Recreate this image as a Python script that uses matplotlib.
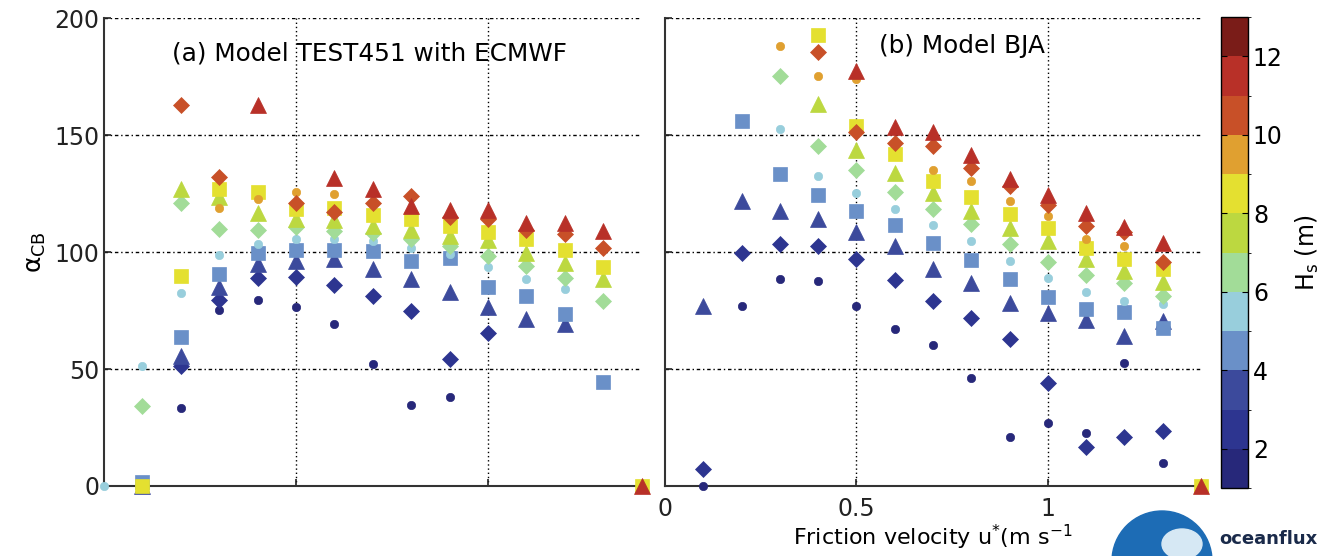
import numpy as np
import matplotlib
matplotlib.use("Agg")
import matplotlib.pyplot as plt
from matplotlib.colors import ListedColormap, BoundaryNorm
from matplotlib.patches import Circle, Ellipse

nan = np.nan
u_star = [0.0, 0.1, 0.2, 0.3, 0.4, 0.5, 0.6, 0.7, 0.8, 0.9, 1.0, 1.1, 1.2, 1.3, 1.4]
hs_bins = [1.5, 2.5, 3.5, 4.5, 5.5, 6.5, 7.5, 8.5, 9.5, 10.5, 11.5, 12.5]
hs_colors = ["#27287a", "#2d3590", "#3c4a9c", "#6a90c8", "#98cedc", "#a2dc98",
             "#bcd840", "#e4e030", "#e0a030", "#c85028", "#b83028", "#7a1c18"]
hs_markers = ["o", "D", "^", "s"] * 3

# Panel (a): Model TEST451 with ECMWF, one list per Hs bin
a_hs1 = [nan, nan, 33.4, 75.4, 79.4, 76.6, 69.3, 52.1, 34.7, 38.0, nan, nan, nan, nan, nan]
a_hs2 = [nan, nan, 51.1, 79.7, 88.8, 89.4, 86.1, 81.1, 74.7, 54.3, 65.4, nan, nan, nan, nan]
a_hs3 = [nan, 0.0, 55.4, 85.1, 94.9, 96.1, 96.8, 92.6, 88.3, 82.8, 76.6, 71.4, 69.4, nan, nan]
a_hs4 = [nan, 1.5, 63.6, 90.8, 99.7, 100.8, 100.8, 100.3, 96.1, 97.6, 85.1, 81.1, 73.3, 44.3, nan]
a_hs5 = [0.0, 51.4, 82.3, 98.6, 103.4, 105.7, 105.5, 104.5, 101.9, 99.2, 93.7, 88.3, 84.0, nan, nan]
a_hs6 = [nan, 34.0, 120.8, 109.7, 109.4, 110.8, 109.0, 108.2, 105.7, 102.7, 98.3, 94.0, 89.0, 79.0, nan]
a_hs7 = [nan, nan, 126.8, 123.5, 116.6, 114.0, 113.8, 111.1, 109.4, 106.9, 105.1, 99.7, 95.1, 88.3, nan]
a_hs8 = [nan, 0.0, 89.7, 126.8, 125.7, 118.3, 119.0, 115.7, 113.9, 111.1, 108.5, 105.4, 100.8, 93.7, 0.0]
a_hs9 = [nan, nan, nan, 118.6, 122.8, 125.7, 124.7, nan, nan, nan, nan, nan, nan, nan, nan]
a_hs10 = [nan, nan, 162.8, 132.1, nan, 121.1, 117.1, 121.1, 124.0, 115.0, 113.9, 109.4, 107.6, 101.8, nan]
a_hs11 = [nan, nan, nan, nan, 162.8, nan, 131.8, 126.8, 119.7, 118.0, 118.0, 112.6, 112.3, 109.0, 0.0]
a_hs12 = [nan] * 15

# Panel (b): Model BJA
b_hs1 = [nan, 0.0, 77.1, 88.3, 87.4, 77.1, 67.0, 60.4, 46.1, 21.1, 27.1, 22.8, 52.6, 10.0, nan]
b_hs2 = [nan, 7.4, 99.7, 103.3, 102.6, 96.8, 88.0, 79.0, 71.9, 62.9, 44.0, 16.8, 20.9, 23.7, nan]
b_hs3 = [nan, 77.1, 121.8, 117.5, 114.0, 108.5, 102.6, 92.8, 86.9, 78.0, 74.0, 71.1, 64.0, 70.4, nan]
b_hs4 = [nan, nan, 156.1, 133.3, 124.3, 117.5, 111.4, 104.0, 96.5, 88.6, 80.9, 75.7, 74.3, 67.6, nan]
b_hs5 = [nan, nan, nan, 152.5, 132.5, 125.4, 118.3, 111.4, 104.7, 96.1, 89.0, 82.8, 79.0, 77.6, nan]
b_hs6 = [nan, nan, nan, 175.1, 145.4, 135.1, 125.7, 118.3, 111.8, 103.3, 95.7, 90.0, 86.6, 81.4, nan]
b_hs7 = [nan, nan, nan, nan, 163.3, 143.7, 133.7, 125.1, 117.5, 110.4, 104.7, 97.2, 91.8, 87.1, nan]
b_hs8 = [nan, nan, nan, nan, 192.8, 153.7, 141.8, 130.4, 123.5, 116.1, 110.4, 101.8, 97.2, 92.6, 0.0]
b_hs9 = [nan, nan, nan, 188.0, 175.1, 174.0, nan, 135.1, 130.4, 121.8, 115.4, 105.7, 102.5, nan, nan]
b_hs10 = [nan, nan, nan, nan, 185.4, 151.1, 146.5, 145.4, 136.1, 128.0, 120.0, 111.1, 108.6, 95.7, nan]
b_hs11 = [nan, nan, nan, nan, nan, 177.5, 153.3, 151.1, 141.4, 131.4, 124.3, 116.8, 110.8, 103.7, 0.0]
b_hs12 = [nan] * 15

panel_a = [a_hs1, a_hs2, a_hs3, a_hs4, a_hs5, a_hs6, a_hs7, a_hs8, a_hs9, a_hs10, a_hs11, a_hs12]
panel_b = [b_hs1, b_hs2, b_hs3, b_hs4, b_hs5, b_hs6, b_hs7, b_hs8, b_hs9, b_hs10, b_hs11, b_hs12]

y_ticks = [0, 50, 100, 150, 200]
x_ticks = [0, 0.5, 1]
cb_ticks = [2, 4, 6, 8, 10, 12]

plt.rcParams['font.family'] = ['DejaVu Sans']
fig = plt.figure(figsize=(13.25, 5.56), dpi=100)
ax_a = fig.add_axes([0.0785, 0.1259, 0.4057, 0.8417])
ax_b = fig.add_axes([0.5019, 0.1259, 0.4045, 0.8417])
cax = fig.add_axes([0.9215, 0.1223, 0.0204, 0.8471])

msizes = {"o": 6, "D": 8.5, "^": 11, "s": 9.5}

for ax, series in ((ax_a, panel_a), (ax_b, panel_b)):
    ax.set_xlim(0, 1.4)
    ax.set_ylim(0, 200)
    for vals, col, mk in zip(series, hs_colors, hs_markers):
        ax.plot(u_star, vals, linestyle="none", marker=mk, ms=msizes[mk],
                color=col, markeredgecolor=col, markeredgewidth=0.5,
                clip_on=False, zorder=3)
    for yv in [50, 100, 150, 200]:
        ax.axhline(yv, color="black", lw=1.0, ls=(0, (2.5, 2, 1, 2)), zorder=1)
    for xv in [0.5, 1.0]:
        ax.axvline(xv, color="black", lw=1.0, ls=(0, (1, 2)), zorder=1)
    ax.spines["top"].set_visible(False)
    ax.spines["right"].set_visible(False)
    for s in ("left", "bottom"):
        ax.spines[s].set_color("#333333")
        ax.spines[s].set_linewidth(1.5)
    ax.set_yticks(y_ticks)
    ax.set_xticks(x_ticks)
    ax.tick_params(direction="in", length=5, width=1.2, labelsize=17, colors="#222222")
    ax.tick_params(axis="x", pad=8)

ax_a.set_xticks([0.5, 1.0])
ax_a.set_xticklabels([])
ax_b.set_yticklabels([])
ax_b.set_xticklabels(["0", "0.5", "1"])

ax_a.set_ylabel(r"$\mathrm{\alpha}_{\mathrm{CB}}$", fontsize=18, labelpad=4)
ax_b.set_xlabel(r"Friction velocity u$^{*}$(m s$^{-1}$", fontsize=16, labelpad=1)

ax_a.text(0.177, 184.7, "(a) Model TEST451 with ECMWF", fontsize=17.8, va="center", ha="left")
ax_b.text(0.56, 188, "(b) Model BJA", fontsize=17.8, va="center", ha="left")

cmap = ListedColormap(hs_colors)
norm = BoundaryNorm(np.arange(1, 14), cmap.N)
sm = matplotlib.cm.ScalarMappable(norm=norm, cmap=cmap)
cb = fig.colorbar(sm, cax=cax, ticks=cb_ticks)
cb.ax.tick_params(labelsize=17, direction="in", length=4, left=True, right=True)
cb.outline.set_linewidth(1.0)
cb.set_label(r"H$_{\mathrm{s}}$ (m)", fontsize=17, labelpad=8)

# oceanflux logo approximation
globe = Circle((11.62, -0.05), 0.5, transform=fig.dpi_scale_trans, color="#1d6cb5",
               zorder=5, clip_on=False)
fig.patches.append(globe)
cloud = Ellipse((11.82, 0.12), 0.4, 0.3, transform=fig.dpi_scale_trans, color="#d6e8f4",
                zorder=6, clip_on=False)
fig.patches.append(cloud)
fig.text(0.9205, 0.03, "oceanflux", fontsize=13, fontweight="bold", color="#1a2a4a",
         ha="left", va="center")

fig.savefig("out.png", dpi=100)
